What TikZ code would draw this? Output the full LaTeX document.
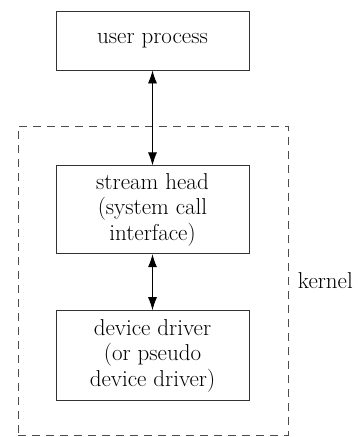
\documentclass[tikz,border=0pt]{standalone}
\usetikzlibrary{positioning,arrows.meta}
\begin{document}
\begin{tikzpicture}[
  x=1pt,y=1pt,
  font=\fontsize{23}{25.5}\selectfont,
  box/.style={draw=black!80,line width=0.8pt,minimum width=193pt,align=center,inner sep=2pt},
  region/.style={draw=black!70,line width=0.8pt,dash pattern=on 8pt off 6pt,minimum width=270pt,minimum height=309pt},
  >={Latex[length=13pt,width=9pt]}]
\useasboundingbox (0,0) rectangle (357,-437);
\node[box,minimum height=59pt] (user) at (152.5,-40.5) {user process};
\node[box,minimum height=88pt,below=95pt of user] (head) {stream head\\(system call\\interface)};
\node[box,minimum height=90pt,below=56pt of head] (driver) {device driver\\(or pseudo\\device driver)};
\node[region] (kern) at (153,-280.5) {};
\node[right=6pt of kern] (klabel) {kernel};
\draw[<->,line width=0.8pt] (user) -- (head);
\draw[<->,line width=0.8pt] (head) -- (driver);
\end{tikzpicture}
\end{document}
